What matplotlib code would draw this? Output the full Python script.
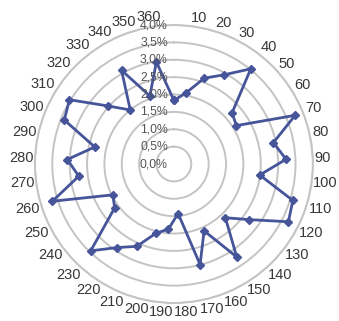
"""Radar chart: share per direction (10-degree sectors)"""
import matplotlib
matplotlib.use('Agg')
import matplotlib.pyplot as plt
import matplotlib.transforms as mtransforms
from matplotlib import font_manager as fm
import numpy as np

# categories (first one has an empty label, at the top)
categories = [''] + [str(d) for d in range(10, 361, 10)]
values = [1.83, 2.08, 2.62, 2.94, 3.52, 2.23, 2.11, 3.76, 2.93, 3.23,
          2.49, 3.58, 3.69, 2.69, 2.14, 3.23, 2.11, 2.99, 1.43, 1.88,
          2.06, 2.60, 2.90, 3.46, 2.12, 1.97, 3.66, 2.76, 3.07, 2.33,
          3.40, 3.53, 2.53, 2.00, 3.09, 2.08, 2.98]
rings = [0.5, 1.0, 1.5, 2.0, 2.5, 3.0, 3.5, 4.0]
ring_labels = ['0,0%', '0,5%', '1,0%', '1,5%', '2,0%', '2,5%', '3,0%', '3,5%', '4,0%']

installed = {f.name for f in fm.fontManager.ttflist}
narrow = 'Liberation Sans Narrow' if 'Liberation Sans Narrow' in installed else 'Liberation Sans'
plt.rcParams['font.family'] = [narrow, 'DejaVu Sans']

GRID = '#c4c4c4'
LINE = '#46549a'

fig = plt.figure(figsize=(3.39, 3.21), dpi=100)
ax = fig.add_axes([0.103, 0.056, 0.820, 0.866], projection='polar')
ax.set_theta_zero_location('N')
ax.set_theta_direction(-1)
ax.set_ylim(0, 4.0)

n = len(categories)
theta = np.arange(n) * 2 * np.pi / n
th = np.append(theta, theta[0])
vv = np.append(values, values[0])
ax.plot(th, vv, color=LINE, linewidth=2.0, marker='D', markersize=3.6,
        zorder=5, clip_on=False)

# circular grid only, no spokes
ax.set_yticks(rings)
ax.set_yticklabels([])
ax.set_xticks([])
ax.yaxis.grid(True, color=GRID, linewidth=1.4)
ax.xaxis.grid(False)
ax.spines['polar'].set_color(GRID)
ax.spines['polar'].set_linewidth(1.4)

# radial labels, left of the centre line
off = mtransforms.offset_copy(ax.transData, fig=fig, x=-6, y=0, units='dots')
for v, lab in zip([0.0] + rings, ring_labels):
    ax.text(0, v, lab, transform=off, ha='right', va='center',
            fontsize=8.8, color='#555555', zorder=6, clip_on=False)

# category labels around the outside
px_per_unit = 139 / 4.0
for t, lab in zip(theta, categories):
    if not lab:
        continue
    hw = 3.4 * len(lab)
    r_px = 142 + abs(np.sin(t)) * hw + abs(np.cos(t)) * 5.5
    ax.text(t, r_px / px_per_unit, lab, ha='center', va='center',
            fontsize=10.5, color='#383838', clip_on=False)

fig.savefig('out.png', dpi=100)
plt.close(fig)
